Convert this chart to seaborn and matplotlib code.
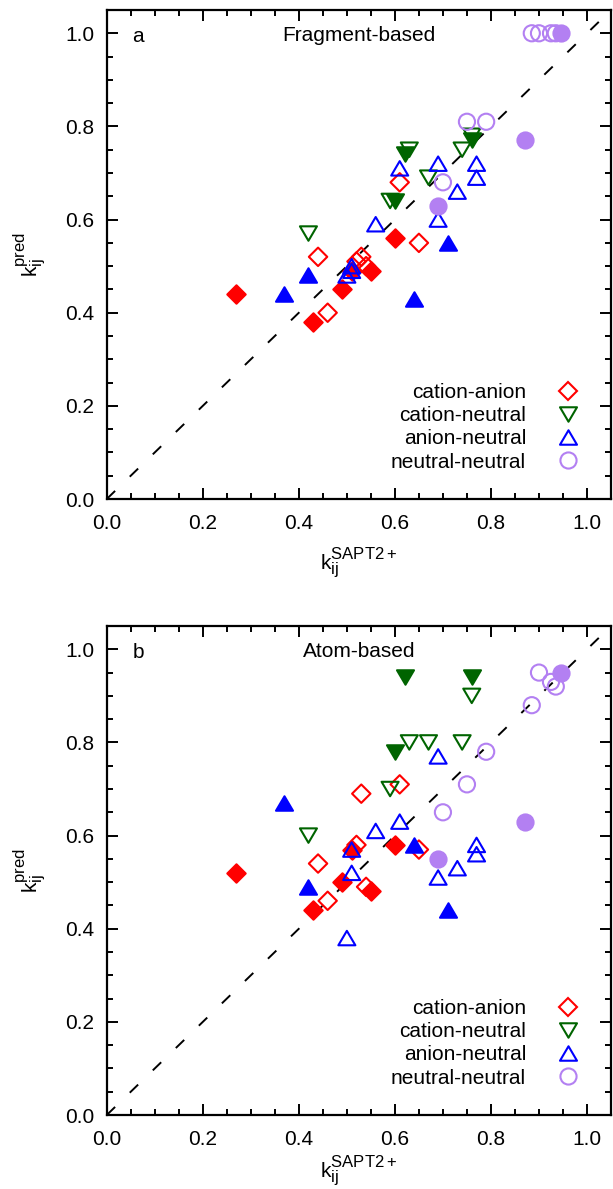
import matplotlib
matplotlib.use("Agg")
import numpy as np
import pandas as pd
import matplotlib.pyplot as plt
import matplotlib._mathtext as _mathtext
import seaborn as sns
from matplotlib.path import Path
from matplotlib.lines import Line2D
from matplotlib.ticker import MultipleLocator

# cation-anion pairs: SAPT2+ reference, fragment-based and atom-based predictions
ca_sapt = [0.27, 0.43, 0.44, 0.46, 0.49, 0.51, 0.52, 0.53, 0.54, 0.55, 0.60, 0.61, 0.65]
ca_frag = [0.44, 0.38, 0.52, 0.40, 0.45, 0.49, 0.51, 0.52, 0.50, 0.49, 0.56, 0.68, 0.55]
ca_atom = [0.52, 0.44, 0.54, 0.46, 0.50, 0.57, 0.58, 0.69, 0.49, 0.48, 0.58, 0.71, 0.57]
ca_test = [1, 1, 0, 0, 1, 1, 0, 0, 0, 1, 1, 0, 0]

# cation-neutral pairs
cn_sapt = [0.42, 0.59, 0.60, 0.62, 0.63, 0.67, 0.74, 0.76, 0.76]
cn_frag = [0.57, 0.64, 0.64, 0.74, 0.75, 0.69, 0.75, 0.78, 0.77]
cn_atom = [0.60, 0.70, 0.78, 0.94, 0.80, 0.80, 0.80, 0.90, 0.94]
cn_test = [0, 0, 1, 1, 0, 0, 0, 0, 1]

# anion-neutral pairs
an_sapt = [0.37, 0.42, 0.50, 0.51, 0.51, 0.56, 0.61, 0.64, 0.69, 0.69, 0.71, 0.73, 0.77, 0.77]
an_frag = [0.44, 0.48, 0.48, 0.49, 0.50, 0.59, 0.71, 0.43, 0.72, 0.60, 0.55, 0.66, 0.72, 0.69]
an_atom = [0.67, 0.49, 0.38, 0.52, 0.57, 0.61, 0.63, 0.58, 0.77, 0.51, 0.44, 0.53, 0.58, 0.56]
an_test = [1, 1, 0, 0, 0, 0, 0, 1, 0, 0, 1, 0, 0, 0]

# neutral-neutral pairs
nn_sapt = [0.69, 0.70, 0.75, 0.79, 0.87, 0.885, 0.90, 0.925, 0.935, 0.945]
nn_frag = [0.63, 0.68, 0.81, 0.81, 0.77, 1.00, 1.00, 1.00, 1.00, 1.00]
nn_atom = [0.55, 0.65, 0.71, 0.78, 0.63, 0.88, 0.95, 0.93, 0.92, 0.95]
nn_test = [1, 0, 0, 0, 1, 0, 0, 0, 0, 1]

groups = ["cation-anion", "cation-neutral", "anion-neutral", "neutral-neutral"]
tick_values = [0.0, 0.2, 0.4, 0.6, 0.8, 1.0]

frames = []
for name, sapt, frag, atom, test in [
    ("cation-anion", ca_sapt, ca_frag, ca_atom, ca_test),
    ("cation-neutral", cn_sapt, cn_frag, cn_atom, cn_test),
    ("anion-neutral", an_sapt, an_frag, an_atom, an_test),
    ("neutral-neutral", nn_sapt, nn_frag, nn_atom, nn_test),
]:
    frames.append(pd.DataFrame({"pair": name, "sapt": sapt, "frag": frag,
                                "atom": atom, "test": np.array(test, bool)}))
data = pd.concat(frames, ignore_index=True)

sns.set_theme(style="ticks")
plt.rcParams.update({
    "font.family": ["Liberation Sans", "DejaVu Sans"],
    "mathtext.fontset": "custom",
    "mathtext.rm": "Liberation Sans",
    "mathtext.it": "Liberation Sans:italic",
    "mathtext.bf": "Liberation Sans:bold",
    "font.size": 15,
    "text.color": "black",
    "axes.labelcolor": "black",
    "xtick.color": "black",
    "ytick.color": "black",
    "axes.edgecolor": "black",
})
# sub/superscripts at 80 % of the label size
_mathtext.SHRINK_FACTOR = 0.8

# triangles slightly wider than tall
tri_up = Path([(0, 0.85), (-1, -0.85), (1, -0.85), (0, 0.85)],
              [Path.MOVETO, Path.LINETO, Path.LINETO, Path.CLOSEPOLY])
tri_down = Path([(0, -0.85), (-1, 0.85), (1, 0.85), (0, -0.85)],
                [Path.MOVETO, Path.LINETO, Path.LINETO, Path.CLOSEPOLY])

styles = {
    "cation-anion": dict(color="#ff0000", marker="D", s=88),
    "cation-neutral": dict(color="#006400", marker=tri_down, s=150),
    "anion-neutral": dict(color="#0000ff", marker=tri_up, s=150),
    "neutral-neutral": dict(color="#b380f2", marker="o", s=135),
}
lw = 1.5

fig = plt.figure(figsize=(6.13, 11.89), dpi=100)
ax_a = fig.add_axes([0.1741, 0.5803, 0.8227, 0.4113])
ax_b = fig.add_axes([0.1741, 0.0622, 0.8227, 0.4113])


def draw_panel(ax, col, letter, title, xpad):
    ax.plot([0, 1.05], [0, 1.05], color="black", lw=1.4, dashes=(6, 10.5), zorder=1)
    for g in groups:
        st = styles[g]
        sub = data[data["pair"] == g]
        sns.scatterplot(data=sub[~sub["test"]], x="sapt", y=col, ax=ax,
                        marker=st["marker"], s=st["s"], facecolor="none",
                        edgecolor=st["color"], linewidth=lw, zorder=3, legend=False)
        sns.scatterplot(data=sub[sub["test"]], x="sapt", y=col, ax=ax,
                        marker=st["marker"], s=st["s"], color=st["color"],
                        edgecolor=st["color"], linewidth=lw, zorder=3, legend=False)
    ax.set_xlim(0, 1.05)
    ax.set_ylim(0, 1.05)
    ax.set_xticks(tick_values)
    ax.set_yticks(tick_values)
    ax.xaxis.set_minor_locator(MultipleLocator(0.05))
    ax.yaxis.set_minor_locator(MultipleLocator(0.05))
    ax.tick_params(which="both", direction="in", top=True, right=True,
                   width=1.4, labelsize=15, color="black")
    ax.tick_params(which="major", length=8)
    ax.tick_params(which="minor", length=4)
    ax.tick_params(axis="x", which="major", pad=11)
    ax.tick_params(axis="y", which="major", pad=9)
    for sp in ax.spines.values():
        sp.set_linewidth(1.6)
        sp.set_color("black")
        sp.set_visible(True)
    ax.set_xlabel(r"$\mathregular{k_{ij}^{SAPT2+}}$", fontsize=15, labelpad=xpad)
    ax.set_ylabel(r"$\mathregular{k_{ij}^{pred}}$", fontsize=15, labelpad=12)
    ax.text(0.065, 0.993, letter, fontsize=15, ha="center", va="center")
    ax.text(0.525, 0.995, title, fontsize=15, ha="center", va="center")

    handles = []
    for g in groups:
        st = styles[g]
        ms = np.sqrt(st["s"])
        handles.append(Line2D([], [], linestyle="none", marker=st["marker"],
                              markersize=ms, markerfacecolor="none",
                              markeredgecolor=st["color"], markeredgewidth=lw))
    ax.legend(handles, groups, loc="lower right", bbox_to_anchor=(0.935, 0.056),
              frameon=False, markerfirst=False, handlelength=1.0,
              handletextpad=1.5, labelspacing=0.2, borderpad=0,
              borderaxespad=0, fontsize=15)


draw_panel(ax_a, "frag", "a", "Fragment-based", xpad=10)
draw_panel(ax_b, "atom", "b", "Atom-based", xpad=4)

fig.savefig("out.png", dpi=100)
